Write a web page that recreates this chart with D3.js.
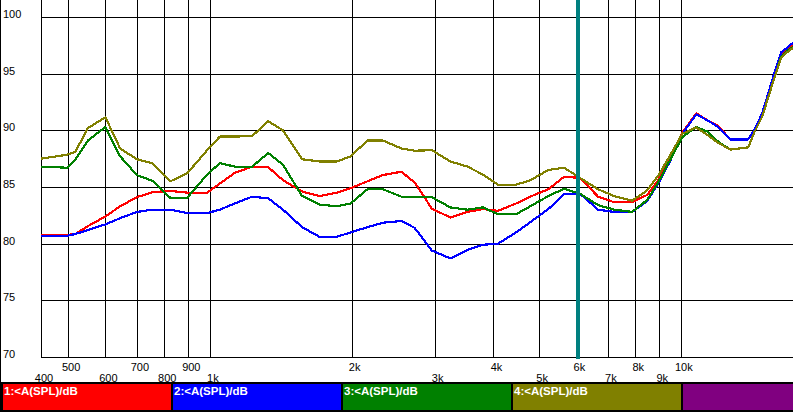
<!DOCTYPE html>
<html>
<head>
<meta charset="utf-8">
<script src="https://cdn.jsdelivr.net/npm/d3@7"></script>
<style>
  body { margin: 0; background: #fff; }
  svg { display: block; }
  text { font-family: "Liberation Sans", Arial, sans-serif; }
</style>
</head>
<body>
<svg id="chart" width="793" height="412"></svg>
<script>
const freqs = [438, 498, 518, 551, 600, 645, 700, 755, 824, 895, 987, 1050, 1130, 1230, 1330, 1430,
  1570, 1710, 1860, 1990, 2160, 2330, 2550, 2720, 2960, 3240, 3520, 3800, 4090, 4470, 4790, 5230,
  5650, 6110, 6670, 7220, 7880, 8480, 8950, 9490, 10070, 10780, 11370, 12000, 12730, 13900, 14310,
  14880, 15700, 16330, 16820, 17490];

const series1 = [80.77, 80.77, 80.85, 81.55, 82.4, 83.3, 84.1, 84.55, 84.65, 84.5, 84.5, 85.3, 86.25, 86.8, 86.75, 85.6,
  84.6, 84.2, 84.5, 84.9, 85.5, 86.05, 86.35, 85.4, 83.1, 82.3, 82.8, 83.05, 82.9, 83.55, 84.15, 84.8,
  85.9, 85.8, 84.15, 83.65, 83.65, 84.3, 85.6, 87.6, 89.8, 91.5, 90.9, 90.4, 89.2, 89.2, 90.0,
  91.5, 94.7, 96.8, 97.2, 97.8];

const series2 = [80.7, 80.7, 80.85, 81.2, 81.7, 82.25, 82.8, 83.0, 83.0, 82.7, 82.7, 83.0, 83.55, 84.15, 84.0, 83.0,
  81.45, 80.6, 80.6, 81.0, 81.45, 81.85, 82.0, 81.4, 79.4, 78.7, 79.45, 79.9, 80.0, 81.0, 81.9, 83.05,
  84.35, 84.4, 83.0, 82.8, 82.8, 83.75, 85.3, 87.3, 89.7, 91.4, 90.9, 90.3, 89.2, 89.2, 90.0,
  91.5, 94.7, 96.9, 97.3, 97.9];

const series3 = [86.8, 86.7, 87.4, 89.1, 90.3, 87.7, 86.05, 85.55, 84.05, 84.05, 86.1, 87.1, 86.8, 86.8, 88.0, 86.95,
  84.2, 83.45, 83.3, 83.55, 84.8, 84.8, 84.15, 84.1, 84.1, 83.2, 83.0, 83.2, 82.6, 82.6, 83.3, 84.2,
  84.85, 84.4, 83.4, 83.0, 82.8, 83.85, 85.4, 87.4, 89.4, 90.3, 89.9, 89.0, 88.3, 88.5, 89.8,
  91.2, 94.3, 96.5, 97.0, 97.5];

const series4 = [87.5, 87.85, 88.1, 90.2, 91.15, 88.4, 87.45, 87.1, 85.5, 86.2, 88.25, 89.45, 89.45, 89.5, 90.8, 90.0,
  87.45, 87.25, 87.25, 87.7, 89.1, 89.1, 88.4, 88.2, 88.25, 87.25, 86.8, 86.1, 85.2, 85.2, 85.6, 86.5,
  86.7, 85.8, 84.8, 84.2, 83.8, 84.7, 86.0, 87.8, 89.7, 90.25, 89.6, 88.9, 88.3, 88.5, 89.8,
  91.2, 94.3, 96.4, 96.9, 97.4];

const seriesNames = ["1:<A(SPL)/dB", "2:<A(SPL)/dB", "3:<A(SPL)/dB", "4:<A(SPL)/dB", ""];
const seriesColors = ["#ff0000", "#0000ff", "#008000", "#808000", "#800080"];

const yTicks = [70, 75, 80, 85, 90, 95, 100];
const gridFreqs = [500, 600, 700, 800, 900, 1000, 2000, 3000, 4000, 5000, 6000, 7000, 8000, 9000, 10000];
const upperTicks = [500, 700, 900, 2000, 4000, 6000, 8000, 10000];
const upperLabels = ["500", "700", "900", "2k", "4k", "6k", "8k", "10k"];
const lowerTicks = [400, 600, 800, 1000, 3000, 5000, 7000, 9000];
const lowerLabels = ["400", "600", "800", "1k", "3k", "5k", "7k", "9k"];
const cursorFreq = 6045;

const width = 793, height = 412;
const plotLeft = 41, plotBottom = 357;

const svg = d3.select("#chart");

const x = d3.scaleLog()
    .domain([438, 17300])
    .range([plotLeft, width]);

const y = d3.scaleLinear()
    .domain([70, 100])
    .range([plotBottom, 17]);

const px = v => Math.round(v) + 0.5;

svg.append("rect").attr("width", width).attr("height", height).attr("fill", "#fff");

// outer left border
svg.append("line")
    .attr("x1", 0.5).attr("x2", 0.5).attr("y1", 0).attr("y2", height)
    .attr("stroke", "#000");

const grid = svg.append("g")
    .attr("stroke", "#000")
    .attr("shape-rendering", "crispEdges");

grid.selectAll(".hgrid")
    .data(yTicks.filter(d => d > 70))
    .join("line")
    .attr("x1", plotLeft).attr("x2", width)
    .attr("y1", d => px(y(d))).attr("y2", d => px(y(d)));

grid.selectAll(".vgrid")
    .data(gridFreqs)
    .join("line")
    .attr("y1", 0).attr("y2", plotBottom)
    .attr("x1", d => px(x(d))).attr("x2", d => px(x(d)));

// axes lines
grid.append("line")
    .attr("x1", px(plotLeft)).attr("x2", px(plotLeft)).attr("y1", 0).attr("y2", plotBottom);
grid.append("line")
    .attr("x1", plotLeft).attr("x2", width).attr("y1", px(plotBottom)).attr("y2", px(plotBottom));

// y labels
svg.append("g").selectAll("text")
    .data(yTicks)
    .join("text")
    .attr("x", 3)
    .attr("y", d => Math.round(y(d)) + 1)
    .attr("font-size", 11)
    .attr("fill", "#000")
    .text(d => d);

// x labels, two staggered rows
const xl = d => Math.max(x(d), plotLeft) + 3;
svg.append("g").selectAll("text")
    .data(upperTicks)
    .join("text")
    .attr("x", d => xl(d))
    .attr("y", 371)
    .attr("text-anchor", "middle")
    .attr("font-size", 11)
    .text((d, i) => upperLabels[i]);

svg.append("g").selectAll("text")
    .data(lowerTicks)
    .join("text")
    .attr("x", d => xl(d))
    .attr("y", 382)
    .attr("text-anchor", "middle")
    .attr("font-size", 11)
    .text((d, i) => lowerLabels[i]);

// curves
const line = d3.line()
    .x(d => x(d[0]))
    .y(d => y(d[1]));

const allSeries = [series1, series2, series3, series4];
svg.append("g")
    .selectAll("path")
    .data(allSeries)
    .join("path")
    .attr("d", s => line(freqs.map((f, i) => [f, s[i]])))
    .attr("fill", "none")
    .attr("stroke", (s, i) => seriesColors[i])
    .attr("stroke-width", 2.2)
    .attr("stroke-linejoin", "round")
    .attr("shape-rendering", "crispEdges");

// cursor
svg.append("line")
    .attr("x1", x(cursorFreq)).attr("x2", x(cursorFreq))
    .attr("y1", 0).attr("y2", plotBottom + 2)
    .attr("stroke", "#008080")
    .attr("stroke-width", 4)
    .attr("shape-rendering", "crispEdges");

// legend bar
const legend = svg.append("g").attr("shape-rendering", "crispEdges");
legend.append("rect")
    .attr("x", 0).attr("y", 382).attr("width", width).attr("height", 30)
    .attr("fill", "#000");

const seg = legend.selectAll("g")
    .data(seriesNames)
    .join("g")
    .attr("transform", (d, i) => `translate(${3 + 170 * i},384)`);

seg.append("rect")
    .attr("width", (d, i) => i === 4 ? width - 683 : 168)
    .attr("height", 26)
    .attr("fill", (d, i) => seriesColors[i]);

seg.append("text")
    .attr("x", 1)
    .attr("y", 11)
    .attr("fill", "#fff")
    .attr("font-size", 11.5)
    .attr("font-weight", "bold")
    .text(d => d);
</script>
</body>
</html>
